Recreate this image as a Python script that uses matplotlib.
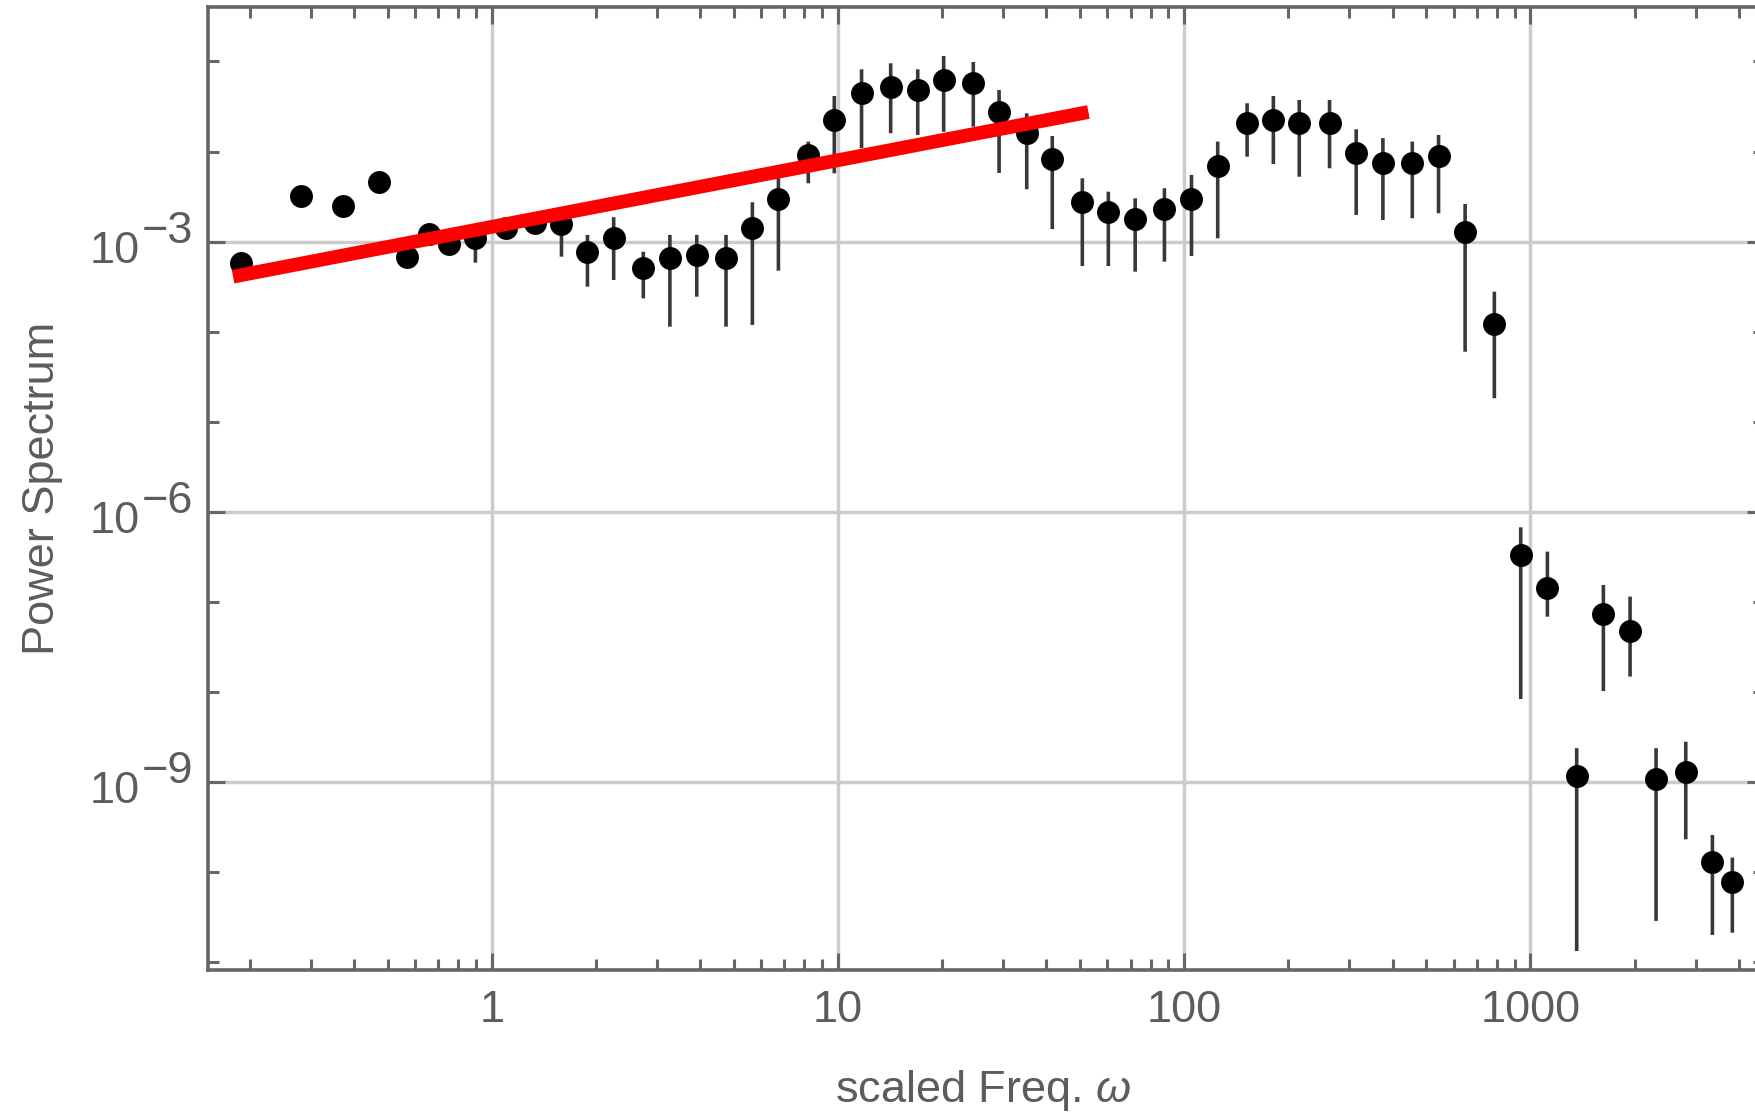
import numpy as np
import matplotlib.pyplot as plt
from matplotlib.ticker import FixedLocator, FixedFormatter, NullFormatter

plt.rcParams['font.family'] = ['Liberation Sans', 'DejaVu Sans']
plt.rcParams['mathtext.fontset'] = 'custom'
plt.rcParams['mathtext.rm'] = 'Liberation Sans'
plt.rcParams['mathtext.it'] = 'Liberation Sans:italic'

# binned power spectrum: centre frequency, value, upper / lower end of the error bar
omega = [0.189, 0.281, 0.373, 0.473, 0.568, 0.660, 0.754, 0.897, 1.10, 1.33,
         1.59, 1.89, 2.25, 2.74, 3.27, 3.91, 4.75, 5.66, 6.73, 8.21,
         9.76, 11.7, 14.2, 17.0, 20.2, 24.6, 29.2, 35.1, 41.6, 50.8,
         60.4, 72.2, 87.7, 105, 125, 152, 181, 215, 263, 314,
         375, 456, 543, 648, 787, 938, 1120, 1361, 1625, 1941,
         2307, 2811, 3356, 3832]
power = [5.76e-4, 3.24e-3, 2.51e-3, 4.56e-3, 6.82e-4, 1.22e-3, 9.36e-4, 1.09e-3, 1.41e-3, 1.60e-3,
         1.57e-3, 7.74e-4, 1.09e-3, 5.07e-4, 6.54e-4, 7.12e-4, 6.54e-4, 1.41e-3, 2.98e-3, 9.17e-3,
         2.24e-2, 4.44e-2, 5.25e-2, 4.83e-2, 6.23e-2, 5.73e-2, 2.75e-2, 1.60e-2, 8.21e-3, 2.74e-3,
         2.12e-3, 1.79e-3, 2.31e-3, 2.98e-3, 6.92e-3, 2.06e-2, 2.24e-2, 2.06e-2, 2.06e-2, 9.57e-3,
         7.53e-3, 7.53e-3, 8.94e-3, 1.27e-3, 1.21e-4, 3.33e-7, 1.42e-7, 1.18e-9, 7.32e-8, 4.78e-8,
         1.08e-9, 1.29e-9, 1.32e-10, 7.88e-11]
power_hi = [5.76e-4, 3.24e-3, 2.51e-3, 4.56e-3, 6.82e-4, 1.22e-3, 9.36e-4, 1.27e-3, 1.41e-3, 1.60e-3,
            1.57e-3, 1.19e-3, 1.87e-3, 7.74e-4, 1.19e-3, 1.19e-3, 1.19e-3, 2.74e-3, 5.05e-3, 1.29e-2,
            4.14e-2, 8.19e-2, 9.55e-2, 8.19e-2, 0.115, 9.87e-2, 4.83e-2, 2.66e-2, 1.49e-2, 5.05e-3,
            3.59e-3, 3.03e-3, 3.92e-3, 5.50e-3, 1.29e-2, 3.44e-2, 4.14e-2, 3.74e-2, 3.74e-2, 1.77e-2,
            1.41e-2, 1.29e-2, 1.53e-2, 2.62e-3, 2.79e-4, 6.76e-7, 3.63e-7, 2.39e-9, 1.55e-7, 1.15e-7,
            2.39e-9, 2.82e-9, 2.60e-10, 1.46e-10]
power_lo = [5.76e-4, 3.24e-3, 2.51e-3, 4.56e-3, 6.82e-4, 1.22e-3, 9.36e-4, 5.85e-4, 1.41e-3, 1.60e-3,
            6.82e-4, 3.17e-4, 3.76e-4, 2.35e-4, 1.14e-4, 2.45e-4, 1.14e-4, 1.19e-4, 4.77e-4, 4.45e-3,
            5.74e-3, 1.09e-2, 1.60e-2, 1.53e-2, 1.66e-2, 1.89e-2, 5.79e-3, 3.82e-3, 1.38e-3, 5.37e-4,
            5.37e-4, 4.65e-4, 6.00e-4, 6.94e-4, 1.09e-3, 8.78e-3, 7.29e-3, 5.26e-3, 6.53e-3, 1.98e-3,
            1.74e-3, 1.82e-3, 2.07e-3, 6.01e-5, 1.83e-5, 8.40e-9, 6.89e-8, 1.34e-11, 1.03e-8, 1.49e-8,
            2.89e-11, 2.33e-10, 2.02e-11, 2.14e-11]

# power-law fit, drawn between its two end points
fit_omega = [0.179, 52.9]
fit_power = [4.09e-4, 2.75e-2]

x_ticks = [1, 10, 100, 1000]
x_ticklabels = ['1', '10', '100', '1000']
y_exponents = [-3, -6, -9]

AXIS_GRAY = '#666666'
TEXT_GRAY = '#5c5c5c'
FS = 32.5

W, H = 1756, 1112
fig = plt.figure(figsize=(W / 100, H / 100), dpi=100)
left, right, top, bottom = 208.3, 1764.0, 7.3, 970.0
ax = fig.add_axes([left / W, 1 - bottom / H, (right - left) / W, (bottom - top) / H])
ax.set_xscale('log')
ax.set_yscale('log')
ax.set_xlim(0.1518, 4730)
ax.set_ylim(8.25e-12, 0.3995)

p = np.array(power)
yerr = [p - np.array(power_lo), np.array(power_hi) - p]
eb = ax.errorbar(omega, power, yerr=yerr, fmt='none', ecolor='#383838',
                 elinewidth=2.6, capsize=0, zorder=2)
for coll in eb[2]:
    coll.set_snap(False)
ax.plot(omega, power, 'o', color='black', markersize=16.5, markeredgewidth=0, zorder=3)
ax.plot(fit_omega, fit_power, color='#ff0000', linewidth=9.9,
        solid_capstyle='butt', zorder=4)

# ticks: decades labelled on x, every third decade on y
ax.xaxis.set_major_locator(FixedLocator(x_ticks))
ax.xaxis.set_major_formatter(FixedFormatter(x_ticklabels))
ax.xaxis.set_minor_locator(FixedLocator([m * 10.0 ** e for e in range(-1, 4) for m in range(2, 10)]))
ax.xaxis.set_minor_formatter(NullFormatter())
ax.yaxis.set_major_locator(FixedLocator([10.0 ** e for e in y_exponents]))
ax.yaxis.set_major_formatter(NullFormatter())
ax.yaxis.set_minor_locator(FixedLocator([10.0 ** e for e in range(-11, 0) if e not in y_exponents]))
ax.yaxis.set_minor_formatter(NullFormatter())

ax.tick_params(which='both', direction='in', top=True, right=True,
               color=AXIS_GRAY, width=2.2, labelsize=FS, labelcolor=TEXT_GRAY)
ax.tick_params(which='major', length=12.5)
ax.tick_params(which='minor', length=8)
ax.tick_params(axis='x', which='major', pad=14.4)

ax.grid(which='major', color='#cccccc', linewidth=2.5)
ax.set_axisbelow(True)
for s in ax.spines.values():
    s.set_color(AXIS_GRAY)
    s.set_linewidth(2.6)

# y tick labels written as 10 with a full-size raised exponent
ytrans = ax.get_yaxis_transform()
for e in y_exponents:
    ax.annotate('10', xy=(0, 10.0 ** e), xycoords=ytrans, xytext=(-69, -21),
                textcoords='offset pixels', ha='right', va='baseline',
                fontsize=FS, color=TEXT_GRAY)
    ax.annotate('\u2212%d' % -e, xy=(0, 10.0 ** e), xycoords=ytrans, xytext=(-66.8, -1),
                textcoords='offset pixels', ha='left', va='baseline',
                fontsize=FS, color=TEXT_GRAY)

ax.set_xlabel(r'scaled Freq. $\omega$', fontsize=FS, color=TEXT_GRAY)
ax.xaxis.set_label_coords(0.498, -0.1018)
ax.set_ylabel('Power Spectrum', fontsize=FS, color=TEXT_GRAY)
ax.yaxis.set_label_coords(-0.0935, 0.5)

fig.savefig('out.png', dpi=100)
